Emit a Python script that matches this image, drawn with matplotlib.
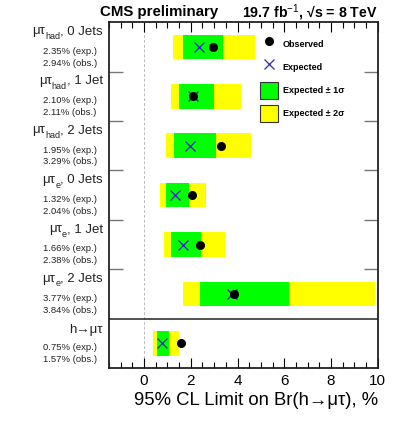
import matplotlib
matplotlib.use("Agg")
import matplotlib.pyplot as plt
from matplotlib.lines import Line2D
from matplotlib.patches import Patch
from matplotlib.ticker import MultipleLocator, FixedLocator

plt.rcParams['font.family'] = ['Liberation Sans', 'DejaVu Sans']
plt.rcParams['mathtext.fontset'] = 'custom'
plt.rcParams['mathtext.rm'] = 'Liberation Sans'

# channels, top to bottom: (name, subscript, jets)
chan_name = ['μτ', 'μτ', 'μτ', 'μτ', 'μτ', 'μτ', 'h→μτ']
chan_sub = ['had', 'had', 'had', 'e', 'e', 'e', '']
chan_jets = [', 0 Jets', ', 1 Jet', ', 2 Jets', ', 0 Jets', ', 1 Jet', ', 2 Jets', '']
expected = [2.35, 2.10, 1.95, 1.32, 1.66, 3.77, 0.75]
observed = [2.94, 2.11, 3.29, 2.04, 2.38, 3.84, 1.57]
lo1 = [1.68, 1.50, 1.30, 0.93, 1.17, 2.38, 0.54]
hi1 = [3.39, 3.01, 3.06, 1.91, 2.45, 6.20, 1.07]
lo2 = [1.26, 1.14, 0.93, 0.70, 0.85, 1.65, 0.40]
hi2 = [4.73, 4.16, 4.59, 2.65, 3.48, 9.87, 1.48]

green = '#00ff00'
yellow = '#ffff00'
blue = '#2a2ab8'
txt = '#222222'

fig = plt.figure(figsize=(3.99, 4.40), dpi=100)
ax = fig.add_axes([0.273, 0.1636, 0.674, 0.786])
ytr = ax.get_yaxis_transform()

bh = 0.5
for i in range(len(expected)):
    yc = i + 0.5
    ax.barh(yc, hi2[i] - lo2[i], left=lo2[i], height=bh, color=yellow, lw=0, zorder=2)
    ax.barh(yc, hi1[i] - lo1[i], left=lo1[i], height=bh, color=green, lw=0, zorder=3)
    ax.plot(expected[i], yc, 'x', color=blue, ms=6.5, mew=0.9, zorder=4)
    ax.plot(observed[i], yc, 'o', color='black', ms=5.5, zorder=5)

    # channel label built from pieces, right aligned
    ylab = yc - 0.19 if chan_sub[i] else yc - 0.14
    t1 = ax.text(-0.022, ylab, chan_jets[i], transform=ytr,
                 ha='right', va='bottom', fontsize=9.5, color=txt)
    if chan_sub[i]:
        sub = ax.annotate(chan_sub[i], xy=(0, 0.05), xycoords=t1, ha='right', va='center',
                          fontsize=6.5, color=txt)
        ax.annotate(chan_name[i], xy=(0, 0), xycoords=(sub, t1), ha='right', va='bottom',
                    fontsize=9.5, color=txt)
    else:
        ax.text(-0.022, ylab, chan_name[i], transform=ytr,
                ha='right', va='bottom', fontsize=9.5, color=txt)

    ax.text(-0.045, yc + 0.09, f'{expected[i]:.2f}% (exp.)', transform=ytr,
            ha='right', va='center', fontsize=6.8, color=txt)
    ax.text(-0.045, yc + 0.33, f'{observed[i]:.2f}% (obs.)', transform=ytr,
            ha='right', va='center', fontsize=6.8, color=txt)

ax.axvline(0, color='#bbbbbb', ls=(0, (3, 2)), lw=0.7, zorder=1)
ax.axhline(6, color=txt, lw=1.1, zorder=6)

ax.set_xlim(-1.5, 10)
ax.set_ylim(7, 0)
ax.xaxis.set_major_locator(MultipleLocator(2))
ax.xaxis.set_minor_locator(MultipleLocator(0.5))
ax.tick_params(axis='x', which='both', direction='in', top=True, labelsize=11, pad=4)
ax.tick_params(axis='x', which='major', length=7, width=0.8)
ax.tick_params(axis='x', which='minor', length=4, width=0.8)
ax.yaxis.set_major_locator(FixedLocator([1, 2, 3, 4, 5]))
ax.tick_params(axis='y', which='major', direction='in', left=True, right=True,
               length=10, width=1.0, color='#777777', labelleft=False)
for sp in ax.spines.values():
    sp.set_linewidth(1.3)
    sp.set_color(txt)

ax.set_xlabel('95% CL Limit on Br(h→μτ), %', fontsize=13.3, labelpad=3, loc='right')

handles = [
    Line2D([], [], ls='none', marker='o', color='black', ms=5.5),
    Line2D([], [], ls='none', marker='x', color=blue, ms=6.5, mew=0.9),
    Patch(facecolor=green, edgecolor='#333333', lw=0.8),
    Patch(facecolor=yellow, edgecolor='#333333', lw=0.8),
]
labels = ['Observed', 'Expected', 'Expected ± 1σ', 'Expected ± 2σ']
ax.legend(handles, labels, loc='upper left', bbox_to_anchor=(0.561, 0.961), frameon=False,
          borderpad=0, borderaxespad=0, handlelength=2.0, handleheight=2.52,
          handletextpad=0.55, labelspacing=0.66, prop={'size': 6.5, 'weight': 'bold'})

fig.text(0.251, 0.972, 'CMS preliminary', fontsize=10.8, fontweight='bold', ha='left', va='center')
fig.text(0.947, 0.972, '19.7 fb$^{-1}$, √s = 8 TeV', fontsize=10.2, fontweight='bold',
         ha='right', va='center')

fig.savefig('out.png', dpi=100)
